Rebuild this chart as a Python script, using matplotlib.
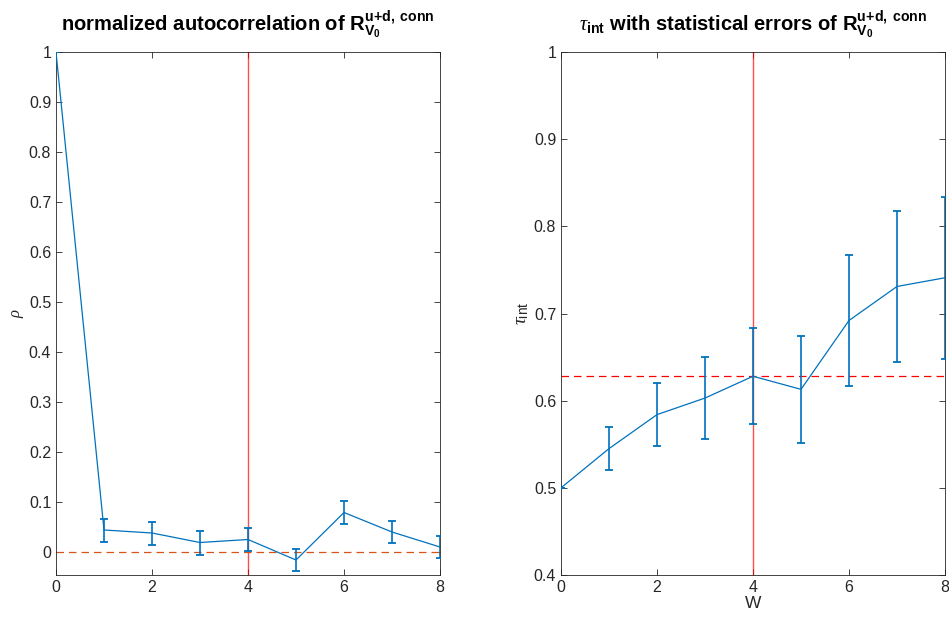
import matplotlib
matplotlib.use('Agg')
import matplotlib.pyplot as plt

plt.rcParams['font.family'] = ['Liberation Sans', 'DejaVu Sans']
plt.rcParams['mathtext.fontset'] = 'custom'
plt.rcParams['mathtext.rm'] = 'Liberation Sans'
plt.rcParams['mathtext.it'] = 'Liberation Serif:italic'
plt.rcParams['mathtext.bf'] = 'Liberation Sans:bold'

# data
W = [0, 1, 2, 3, 4, 5, 6, 7, 8]
rho = [1.0, 0.044, 0.038, 0.019, 0.025, -0.016, 0.079, 0.040, 0.010]
rho_err = [0.0, 0.023, 0.023, 0.024, 0.023, 0.022, 0.023, 0.022, 0.022]
tau = [0.5, 0.545, 0.584, 0.603, 0.628, 0.613, 0.692, 0.731, 0.741]
tau_err = [0.0, 0.025, 0.036, 0.047, 0.055, 0.061, 0.075, 0.087, 0.093]
W_cut = 4

blue = '#0072BD'
orange = '#D95319'
axcol = '#262626'

fig = plt.figure(figsize=(9.49, 6.25), dpi=100)
ax1 = fig.add_axes([56 / 949, 1 - 575 / 625, (440 - 56) / 949, (575 - 52) / 625])
ax2 = fig.add_axes([561 / 949, 1 - 575 / 625, (945 - 561) / 949, (575 - 52) / 625])

def style(ax):
    ax.tick_params(direction='in', top=True, right=True, length=4, width=0.6,
                   colors=axcol, labelsize=11.5, labelcolor=axcol)
    for s in ax.spines.values():
        s.set_color(axcol)
        s.set_linewidth(0.6)

# left: normalized autocorrelation
ax1.errorbar(W, rho, yerr=rho_err, color=blue, lw=0.9, elinewidth=1.2,
             capsize=3, capthick=1.3, zorder=3)
ax1.axvline(W_cut, color='red', lw=1.0, alpha=0.7, zorder=2)
ax1.axhline(0, color=orange, lw=0.9, ls=(0, (6, 4)), zorder=2)
ax1.set_xlim(0, 8)
ax1.set_ylim(-0.046, 1)
ax1.set_xticks([0, 2, 4, 6, 8])
ax1.set_yticks([0, 0.1, 0.2, 0.3, 0.4, 0.5, 0.6, 0.7, 0.8, 0.9, 1])
ax1.set_yticklabels(['0', '0.1', '0.2', '0.3', '0.4', '0.5', '0.6', '0.7', '0.8', '0.9', '1'])
ax1.set_ylabel(r'$\rho$', fontsize=12, color=axcol, labelpad=2)
ax1.set_title(r'normalized autocorrelation of $\mathbf{R}_{\mathbf{V}_{\mathbf{0}}}^{\mathbf{u\!+\!d,\ conn}}$',
              fontsize=14.5, fontweight='bold', pad=15)
style(ax1)

# right: tau_int
ax2.errorbar(W, tau, yerr=tau_err, color=blue, lw=0.9, elinewidth=1.2,
             capsize=3, capthick=1.3, zorder=3)
ax2.axvline(W_cut, color='red', lw=1.0, alpha=0.7, zorder=2)
ax2.axhline(tau[W_cut], color='red', lw=0.9, ls=(0, (6, 4)), zorder=2)
ax2.set_xlim(0, 8)
ax2.set_ylim(0.4, 1)
ax2.set_xticks([0, 2, 4, 6, 8])
ax2.set_yticks([0.4, 0.5, 0.6, 0.7, 0.8, 0.9, 1])
ax2.set_yticklabels(['0.4', '0.5', '0.6', '0.7', '0.8', '0.9', '1'])
ax2.set_xlabel('W', fontsize=12.5, color=axcol, labelpad=1)
ax2.set_ylabel(r'$\tau_{\mathrm{int}}$', fontsize=14, color=axcol, labelpad=2)
ax2.set_title(r'$\tau_{\mathbf{int}}$ with statistical errors of $\mathbf{R}_{\mathbf{V}_{\mathbf{0}}}^{\mathbf{u\!+\!d,\ conn}}$',
              fontsize=14.5, fontweight='bold', pad=15)
style(ax2)

fig.savefig('out.png', dpi=100)
